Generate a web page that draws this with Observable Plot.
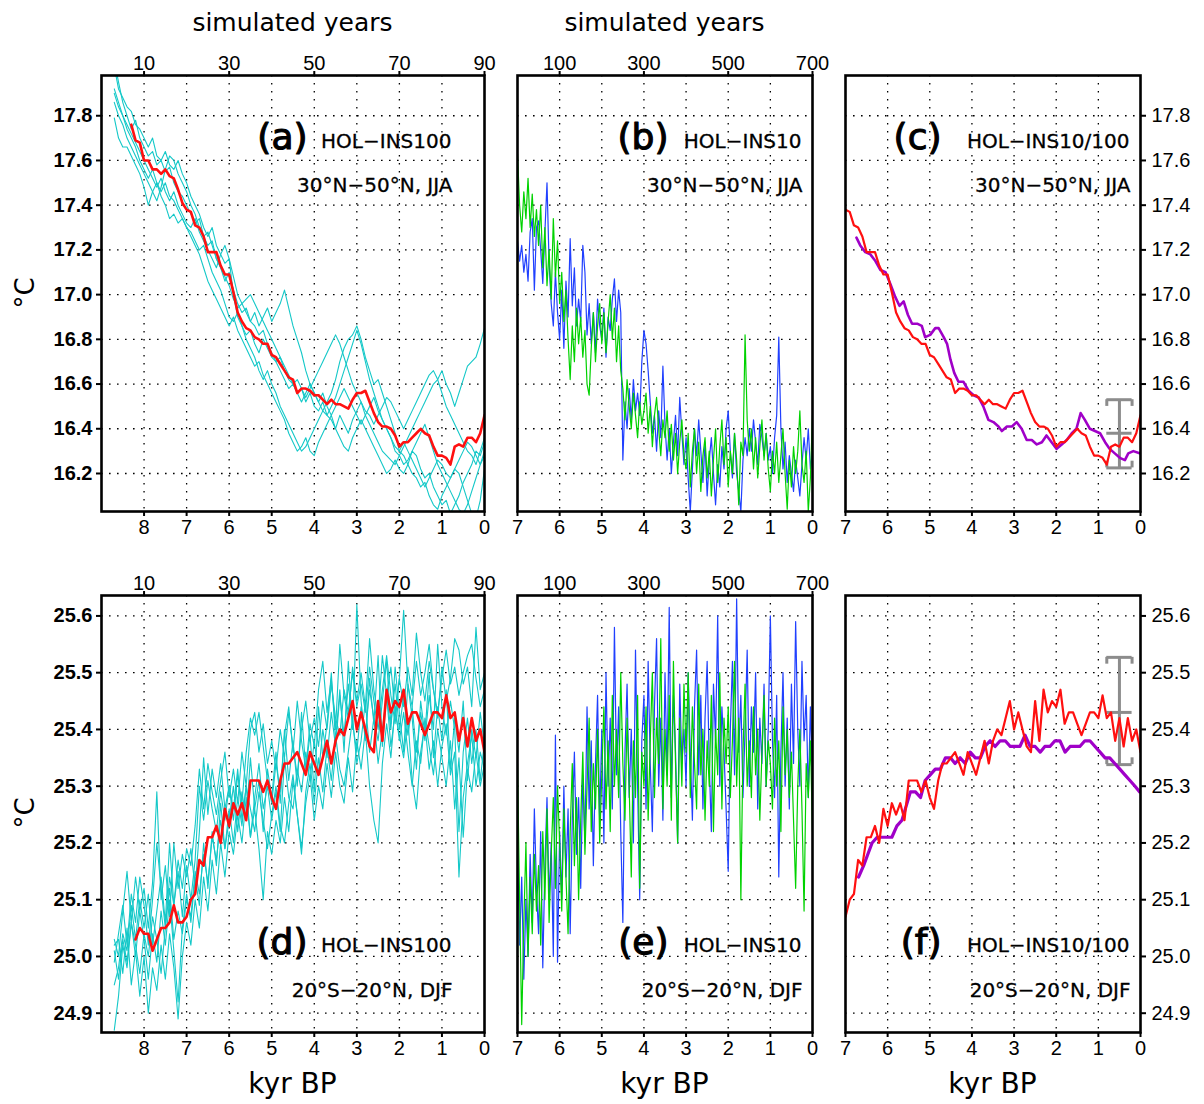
<!DOCTYPE html>
<html><head><meta charset="utf-8">
<script src="https://cdn.jsdelivr.net/npm/d3@7/dist/d3.min.js"></script>
<script src="https://cdn.jsdelivr.net/npm/@observablehq/plot@0.6/dist/plot.umd.min.js"></script>
<style>
body{margin:0;background:#fff;}
#wrap{position:relative;width:1204px;height:1104px;overflow:hidden;font-family:"DejaVu Sans",sans-serif;color:#000;}
.lbl{position:absolute;white-space:nowrap;transform:translate(-50%,-50%);line-height:1;}
</style></head><body><div id="wrap"></div>
<script>
// ---------------- tick labels / categories ----------------
const kyrTicks9 = [8,7,6,5,4,3,2,1,0];
const kyrTicks7 = [7,6,5,4,3,2,1,0];
const gridKyr9 = [8,7,6,5,4,3,2,1];
const gridKyr7 = [6,5,4,3,2,1];
const simYears100 = [10,30,50,70,90];      // HOL-INS100 simulated years
const simYears10 = [100,300,500,700];      // HOL-INS10 simulated years
const yTicksNH = [16.2,16.4,16.6,16.8,17.0,17.2,17.4,17.6,17.8];
const yTicksTR = [24.9,25.0,25.1,25.2,25.3,25.4,25.5,25.6];
const panelTags = ["(a)","(b)","(c)","(d)","(e)","(f)"];
const runNames = ["HOL−INS100","HOL−INS10","HOL−INS10/100"];
const regionNames = ["30°N−50°N, JJA","20°S−20°N, DJF"];

// ---------------- (a) HOL-INS100, 30N-50N JJA : ensemble members (8.7 .. 0.0 kyr, every 0.1) ----------------
const a1 = [18.05,17.95,17.86,17.80,17.74,17.78,17.70,17.66,
17.62,17.64,17.58,17.60,17.55,17.57,17.50,17.46,17.44,17.40,
17.36,17.32,17.34,17.26,17.22,17.24,17.16,17.12,17.06,17.10,
17.02,16.96,16.92,16.94,16.88,16.86,16.82,16.84,16.78,16.74,
16.70,16.72,16.66,16.62,16.60,16.56,16.58,16.52,16.56,16.50,
16.48,16.52,16.46,16.50,16.54,16.60,16.66,16.72,16.78,16.84,
16.78,16.70,16.62,16.56,16.50,16.44,16.40,16.36,16.30,16.28,
16.24,16.26,16.30,16.28,16.22,16.18,16.20,16.14,16.10,16.06,
16.08,16.02,16.06,16.10,16.16,16.20,16.24,16.30,16.28,16.34];
const a2 = [17.79,17.70,17.66,17.66,17.62,17.58,17.54,17.48,
17.40,17.46,17.50,17.44,17.40,17.34,17.36,17.32,17.34,17.30,
17.28,17.24,17.20,17.22,17.16,17.10,17.06,17.02,16.96,16.90,
16.88,16.92,16.86,16.80,16.76,16.72,16.66,16.62,16.66,16.60,
16.56,16.50,16.46,16.42,16.38,16.34,16.30,16.32,16.36,16.40,
16.44,16.48,16.52,16.56,16.62,16.70,16.76,16.80,16.82,16.86,
16.80,16.72,16.66,16.60,16.62,16.56,16.50,16.44,16.38,16.30,
16.28,16.24,16.20,16.18,16.14,16.16,16.10,16.06,16.04,16.10,
16.14,16.18,16.22,16.20,16.14,16.08,16.02,16.00,16.08,16.22];
const a3 = [18.02,17.92,17.88,17.84,17.82,17.76,17.74,17.70,
17.66,17.70,17.62,17.60,17.64,17.58,17.56,17.60,17.54,17.50,
17.44,17.40,17.36,17.30,17.26,17.30,17.22,17.18,17.14,17.16,
17.00,16.90,16.86,16.82,16.84,16.78,16.74,16.80,16.76,16.72,
16.70,16.66,16.62,16.58,16.60,16.56,16.52,16.56,16.60,16.56,
16.52,16.48,16.46,16.44,16.40,16.46,16.42,16.38,16.44,16.48,
16.52,16.46,16.42,16.38,16.34,16.30,16.28,16.26,16.24,16.28,
16.32,16.36,16.40,16.44,16.48,16.52,16.56,16.60,16.62,16.66,
16.60,16.56,16.50,16.56,16.62,16.68,16.70,16.72,16.78,16.85];
const a4 = [17.90,17.84,17.80,17.74,17.70,17.66,17.60,17.56,
17.52,17.56,17.50,17.46,17.50,17.44,17.42,17.38,17.34,17.30,
17.26,17.22,17.18,17.12,17.06,17.02,16.98,16.94,16.90,16.86,
16.90,16.84,16.80,16.76,16.72,16.68,16.70,16.64,16.60,16.56,
16.52,16.48,16.44,16.38,16.34,16.30,16.32,16.36,16.30,16.28,
16.34,16.38,16.42,16.46,16.40,16.36,16.32,16.30,16.36,16.40,
16.44,16.40,16.36,16.32,16.28,16.24,16.20,16.22,16.26,16.22,
16.20,16.24,16.30,16.34,16.38,16.42,16.36,16.30,16.24,16.20,
16.16,16.12,16.08,16.04,16.02,16.06,16.12,16.18,16.24,16.28];
const a5 = [17.92,17.86,17.80,17.76,17.72,17.68,17.64,17.60,
17.56,17.52,17.48,17.52,17.46,17.42,17.46,17.40,17.36,17.32,
17.30,17.34,17.28,17.24,17.20,17.16,17.12,17.18,17.22,17.16,
17.08,17.00,16.96,16.92,16.88,16.92,16.86,16.90,16.94,16.88,
16.92,16.96,17.02,16.94,16.86,16.80,16.74,16.66,16.60,16.56,
16.52,16.56,16.50,16.46,16.50,16.54,16.58,16.54,16.50,16.46,
16.42,16.46,16.50,16.54,16.48,16.44,16.40,16.36,16.32,16.30,
16.34,16.30,16.26,16.22,16.18,16.14,16.18,16.22,16.26,16.24,
16.20,16.18,16.22,16.26,16.30,16.34,16.32,16.28,16.24,16.30];
const a6 = [17.86,17.80,17.76,17.70,17.66,17.62,17.58,17.54,
17.50,17.46,17.42,17.48,17.56,17.62,17.60,17.54,17.50,17.46,
17.40,17.36,17.30,17.26,17.28,17.22,17.16,17.12,17.08,17.04,
16.98,16.94,16.96,16.98,17.00,16.96,16.92,16.88,16.84,16.80,
16.76,16.72,16.68,16.64,16.60,16.62,16.58,16.54,16.58,16.62,
16.66,16.70,16.74,16.78,16.82,16.78,16.72,16.66,16.60,16.56,
16.52,16.48,16.46,16.42,16.46,16.50,16.54,16.52,16.48,16.44,
16.40,16.44,16.48,16.52,16.56,16.60,16.64,16.66,16.62,16.56,
16.50,16.46,16.42,16.38,16.34,16.30,16.28,16.24,16.30,16.36];
// ensemble mean (8.3 .. 0.0 kyr, every 0.1)
const meanNH = [17.76,17.69,17.68,17.60,
17.60,17.56,17.56,17.54,17.56,17.53,17.52,17.47,17.41,17.38,
17.37,17.31,17.30,17.26,17.19,17.19,17.19,17.13,17.09,17.09,
17.01,16.92,16.88,16.85,16.84,16.81,16.80,16.78,16.78,16.73,
16.72,16.69,16.66,16.63,16.62,16.56,16.58,16.58,16.57,16.55,
16.55,16.53,16.51,16.53,16.51,16.51,16.50,16.49,16.53,16.56,
16.56,16.57,16.52,16.47,16.43,16.41,16.41,16.40,16.37,16.32,
16.34,16.34,16.36,16.38,16.40,16.38,16.37,16.32,16.28,16.28,
16.27,16.24,16.32,16.33,16.32,16.36,16.36,16.34,16.38,16.46];

// ---------------- (b) HOL-INS10, 30N-50N JJA (7.00 .. 0.00 kyr, every 0.05) ----------------
const bBlue = [17.24,17.15,17.22,17.10,17.18,17.06,17.28,17.34,17.02,17.30,
17.33,17.20,17.05,17.28,17.50,17.14,16.96,16.86,17.10,16.92,
16.80,17.02,16.76,17.06,16.90,17.25,16.95,17.12,16.86,16.98,
16.88,17.22,17.10,16.82,16.96,16.78,16.92,16.74,16.98,16.86,
16.80,16.94,16.72,16.90,16.84,16.98,17.07,16.88,17.02,16.92,
16.26,16.52,16.40,16.58,16.44,16.62,16.48,16.56,16.46,16.70,
16.84,16.78,16.66,16.52,16.38,16.46,16.30,16.48,16.36,16.68,
16.42,16.26,16.40,16.20,16.34,16.46,16.28,16.54,16.38,16.24,
16.36,16.18,16.03,16.22,16.40,16.28,16.44,16.30,16.16,16.34,
16.10,16.26,16.36,16.20,16.06,16.24,16.14,16.32,16.22,16.40,
16.48,16.30,16.18,16.38,16.20,16.12,16.03,16.26,16.36,16.28,
16.40,16.30,16.44,16.34,16.24,16.42,16.36,16.28,16.38,16.26,
16.32,16.20,16.36,16.46,16.81,16.40,16.22,16.34,16.16,16.28,
16.20,16.12,16.26,16.18,16.10,16.24,16.36,16.26,16.40,16.22,
16.30];
const bGreen = [17.63,17.40,17.28,17.46,17.34,17.52,17.30,17.45,17.26,17.38,
17.22,17.40,17.12,17.30,17.04,17.20,16.98,17.34,17.08,17.24,
16.96,17.10,16.88,17.02,16.80,16.62,16.86,16.70,16.94,16.78,
16.90,16.72,16.84,16.60,16.55,16.76,16.92,16.70,16.86,16.96,
16.78,16.92,16.74,16.88,17.00,16.80,16.94,16.70,16.86,16.66,
16.58,16.44,16.62,16.50,16.40,16.56,16.46,16.36,16.52,16.42,
16.48,16.56,16.38,16.50,16.32,16.46,16.54,16.40,16.28,16.44,
16.36,16.48,16.30,16.42,16.26,16.38,16.20,16.34,16.44,16.28,
16.22,16.38,16.14,16.30,16.40,16.20,16.34,16.12,16.28,16.36,
16.18,16.30,16.10,16.26,16.40,16.16,16.32,16.44,16.24,16.36,
16.14,16.30,16.20,16.38,16.26,16.06,16.34,16.28,16.82,16.44,
16.30,16.40,16.22,16.36,16.18,16.32,16.44,16.26,16.38,16.22,
16.12,16.30,16.20,16.34,16.16,16.28,16.40,16.20,16.04,16.26,
16.14,16.32,16.20,16.30,16.48,16.24,16.16,16.30,16.03,16.18,
16.46];

// ---------------- (c) HOL-INS10 smoothed mean ----------------
const smooth10NH_kyr = [6.74,6.65,6.53,6.41,6.29,6.17,6.05,5.94,5.82,5.72,5.62,5.52,5.42,5.30,5.19,5.11,4.99,4.87,4.79,4.67,4.59,4.51,4.42,4.32,4.20,4.08,3.96,3.84,3.73,3.61,3.49,3.37,3.29,3.17,3.05,2.94,2.82,2.70,2.58,2.46,2.34,2.23,2.11,1.99,1.87,1.75,1.63,1.52,1.42,1.32,1.20,1.08,0.96,0.84,0.73,0.61,0.49,0.37,0.29,0.17,0.02];
const smooth10NH = [17.255,17.22,17.19,17.18,17.15,17.11,17.10,17.05,16.99,16.95,16.97,16.91,16.87,16.87,16.86,16.81,16.82,16.85,16.85,16.81,16.78,16.71,16.65,16.61,16.61,16.57,16.55,16.54,16.50,16.44,16.43,16.41,16.39,16.41,16.41,16.43,16.40,16.35,16.35,16.33,16.34,16.37,16.34,16.31,16.33,16.35,16.38,16.40,16.47,16.44,16.40,16.39,16.38,16.34,16.31,16.29,16.27,16.26,16.29,16.30,16.29];
const errNH = [{kyr:0.5, lo:16.225, mid:16.38, hi:16.53}];

// ---------------- (d) HOL-INS100, 20S-20N DJF : ensemble members (8.7 .. 0.0 kyr) ----------------
const d1 = [24.87,24.93,25.02,24.98,25.06,25.00,25.08,25.03,
24.96,25.04,24.99,25.08,25.02,25.10,25.01,24.92,25.05,25.11,
25.06,25.14,25.09,25.20,25.12,25.22,25.16,25.27,25.19,25.24,
25.30,25.22,25.29,25.24,25.35,25.26,25.31,25.22,25.33,25.28,
25.36,25.27,25.40,25.31,25.38,25.30,25.43,25.33,25.39,25.29,
25.44,25.35,25.41,25.50,25.38,25.47,25.36,25.52,25.40,25.62,
25.45,25.38,25.49,25.41,25.53,25.37,25.46,25.40,25.51,25.43,
25.36,25.48,25.42,25.33,25.45,25.39,25.50,25.35,25.44,25.38,
25.47,25.33,25.42,25.36,25.45,25.31,25.40,25.35,25.43,25.37];
const d2 = [25.02,25.03,24.97,25.05,24.95,25.01,24.93,25.00,
24.90,24.98,24.94,25.02,24.96,25.04,24.98,24.89,25.00,25.06,
25.02,25.10,25.05,25.14,25.08,25.17,25.11,25.20,25.14,25.22,
25.18,25.25,25.20,25.28,25.21,25.26,25.19,25.10,25.22,25.18,
25.24,25.20,25.28,25.22,25.31,25.25,25.19,25.27,25.32,25.24,
25.30,25.26,25.34,25.28,25.36,25.30,25.27,25.35,25.29,25.38,
25.33,25.40,25.30,25.24,25.20,25.34,25.41,25.35,25.44,25.38,
25.43,25.36,25.30,25.38,25.34,25.42,25.37,25.32,25.40,25.35,
25.30,25.38,25.26,25.35,25.21,25.33,25.29,25.36,25.30,25.34];
const d3 = [25.03,25.00,25.08,25.15,25.06,25.14,25.08,25.12,
25.05,25.13,25.29,25.10,25.16,25.07,25.20,25.12,25.18,25.14,
25.19,25.12,25.22,25.35,25.25,25.33,25.28,25.34,25.26,25.30,
25.24,25.32,25.27,25.36,25.42,25.39,25.43,25.37,25.31,25.27,
25.34,25.29,25.39,25.44,25.36,25.45,25.38,25.33,25.41,25.37,
25.47,25.52,25.43,25.49,25.40,25.55,25.46,25.42,25.51,25.45,
25.50,25.44,25.56,25.47,25.42,25.53,25.46,25.51,25.43,25.49,
25.61,25.48,25.44,25.52,25.46,25.50,25.55,25.47,25.42,25.51,
25.45,25.49,25.56,25.54,25.48,25.51,25.44,25.58,25.47,25.50];
const d4 = [24.95,24.98,25.04,25.01,25.09,25.03,25.10,25.05,
25.11,25.02,25.08,25.14,25.06,25.20,25.09,25.15,25.07,25.16,
25.10,25.17,25.30,25.24,25.31,25.26,25.22,25.29,25.24,25.30,
25.26,25.33,25.24,25.30,25.21,25.28,25.34,25.26,25.30,25.24,
25.29,25.22,25.35,25.28,25.26,25.33,25.29,25.36,25.31,25.38,
25.32,25.40,25.35,25.43,25.37,25.46,25.39,25.48,25.41,25.36,
25.44,25.39,25.47,25.42,25.38,25.45,25.52,25.41,25.48,25.40,
25.46,25.39,25.44,25.36,25.43,25.38,25.46,25.40,25.55,25.44,
25.39,25.45,25.40,25.22,25.36,25.42,25.34,25.40,25.31,25.38];
const d5 = [25.01,24.96,25.03,24.99,25.06,25.02,24.97,25.04,
25.00,25.07,25.03,24.97,25.05,25.12,25.03,25.08,25.04,25.10,
25.07,25.15,25.11,25.18,25.13,25.21,25.17,25.24,25.19,25.26,
25.20,25.28,25.23,25.30,25.26,25.22,25.29,25.24,25.19,25.25,
25.30,25.23,25.20,25.27,25.32,25.25,25.18,25.29,25.34,25.27,
25.35,25.29,25.37,25.31,25.39,25.33,25.30,25.36,25.42,25.34,
25.38,25.45,25.36,25.42,25.34,25.40,25.46,25.37,25.43,25.39,
25.35,25.42,25.31,25.26,25.36,25.41,25.33,25.38,25.30,25.37,
25.41,25.32,25.36,25.14,25.28,25.34,25.39,25.30,25.36,25.33];
const d6 = [24.99,25.04,25.09,25.02,25.11,25.06,25.14,25.09,
25.02,25.10,25.20,25.12,25.05,25.14,25.09,25.17,25.12,25.19,
25.16,25.23,25.33,25.26,25.34,25.29,25.25,25.31,25.36,25.28,
25.33,25.27,25.36,25.30,25.40,25.43,25.36,25.41,25.34,25.38,
25.33,25.40,25.35,25.43,25.37,25.32,25.40,25.45,25.38,25.42,
25.37,25.45,25.40,25.48,25.42,25.39,25.47,25.43,25.50,25.44,
25.48,25.43,25.51,25.45,25.40,25.47,25.53,25.46,25.41,25.49,
25.44,25.51,25.46,25.57,25.50,25.45,25.52,25.47,25.43,25.49,
25.54,25.48,25.51,25.46,25.50,25.53,25.55,25.49,25.44,25.47];
// ensemble mean (8.2 .. 0.0 kyr, every 0.1)
const meanTR = [25.03,25.05,25.04,
25.04,25.01,25.03,25.05,25.05,25.06,25.09,25.06,25.06,25.07,
25.10,25.11,25.17,25.16,25.21,25.21,25.23,25.20,25.26,25.23,
25.27,25.25,25.27,25.24,25.31,25.31,25.31,25.29,25.31,25.28,
25.26,25.31,25.34,25.34,25.35,25.36,25.34,25.32,25.36,25.34,
25.32,25.35,25.38,25.34,25.38,25.40,25.39,25.42,25.45,25.40,
25.43,25.40,25.37,25.36,25.45,25.38,25.47,25.43,25.45,25.44,
25.47,25.41,25.43,25.43,25.41,25.39,25.41,25.43,25.43,25.42,
25.46,25.42,25.43,25.38,25.42,25.37,25.42,25.38,25.40,25.36];

// ---------------- (e) HOL-INS10, 20S-20N DJF (7.00 .. 0.00 kyr, every 0.05) ----------------
const eBlue = [25.20,25.02,25.14,24.96,25.10,25.00,25.18,25.06,25.26,25.12,
25.04,25.22,24.98,25.16,25.28,25.10,25.20,25.00,25.39,24.99,
25.22,25.10,25.30,25.14,25.26,25.04,25.24,25.36,25.18,25.28,
25.12,25.32,25.20,25.44,25.26,25.38,25.16,25.34,25.46,25.24,
25.40,25.20,25.50,25.30,25.42,25.26,25.58,25.32,25.44,25.22,
25.06,25.36,25.48,25.28,25.40,25.20,25.54,25.30,25.10,25.38,
25.46,25.26,25.52,25.34,25.22,25.44,25.56,25.30,25.42,25.24,
25.50,25.32,25.615,25.28,25.46,25.36,25.20,25.48,25.34,25.40,
25.30,25.50,25.36,25.24,25.44,25.54,25.32,25.46,25.26,25.42,
25.52,25.34,25.22,25.48,25.38,25.60,25.30,25.44,25.36,25.26,
25.15,25.40,25.52,25.32,25.63,25.36,25.46,25.28,25.40,25.54,
25.30,25.44,25.36,25.50,25.26,25.42,25.34,25.48,25.30,25.40,
25.60,25.38,25.28,25.46,25.14,25.36,25.50,25.30,25.42,25.26,
25.48,25.34,25.59,25.40,25.30,25.52,25.38,25.46,25.28,25.44,
25.32];
const eGreen = [25.34,25.10,24.88,25.06,25.20,25.00,25.14,25.04,25.18,25.08,
25.16,25.02,25.22,25.10,25.26,25.06,25.18,25.28,25.12,25.30,
25.20,25.08,25.26,25.14,25.04,25.22,25.34,25.16,25.28,25.10,
25.24,25.36,25.18,25.30,25.42,25.22,25.34,25.26,25.40,25.20,
25.32,25.44,25.26,25.38,25.22,25.46,25.30,25.40,25.28,25.50,
25.34,25.24,25.42,25.30,25.14,25.38,25.28,25.46,25.12,25.36,
25.30,25.44,25.24,25.38,25.50,25.28,25.42,25.34,25.56,25.26,
25.40,25.30,25.46,25.24,25.52,25.34,25.20,25.42,25.30,25.48,
25.36,25.50,25.28,25.44,25.34,25.26,25.48,25.32,25.40,25.24,
25.38,25.30,25.46,25.22,25.40,25.32,25.50,25.26,25.42,25.34,
25.44,25.28,25.38,25.52,25.30,25.42,25.10,25.36,25.48,25.30,
25.38,25.28,25.44,25.32,25.40,25.24,25.36,25.46,25.30,25.38,
25.34,25.26,25.42,25.30,25.38,25.22,25.44,25.32,25.40,25.28,
25.36,25.24,25.12,25.30,25.40,25.26,25.08,25.34,25.28,25.38,
25.22];

// ---------------- (f) HOL-INS10 smoothed mean ----------------
const smooth10TR_kyr = [6.69,6.57,6.47,6.37,6.25,6.13,6.01,5.90,5.78,5.66,5.58,5.46,5.34,5.22,5.11,4.99,4.87,4.75,4.63,4.51,4.40,4.28,4.16,4.04,3.92,3.80,3.69,3.57,3.45,3.33,3.21,3.09,2.98,2.86,2.74,2.62,2.50,2.38,2.27,2.15,2.03,1.91,1.79,1.67,1.55,1.44,1.32,1.20,1.08,0.96,0.84,0.73,0.61,0.49,0.37,0.25,0.13,0.02];
const smooth10TR = [25.14,25.16,25.18,25.20,25.21,25.21,25.21,25.21,25.23,25.24,25.26,25.29,25.29,25.28,25.31,25.32,25.33,25.33,25.35,25.35,25.34,25.35,25.34,25.36,25.35,25.35,25.37,25.38,25.37,25.38,25.38,25.37,25.37,25.37,25.39,25.37,25.37,25.36,25.37,25.37,25.38,25.38,25.36,25.37,25.37,25.37,25.38,25.38,25.37,25.36,25.35,25.35,25.34,25.33,25.32,25.31,25.30,25.29];
const errTR = [{kyr:0.5, lo:25.338, mid:25.43, hi:25.527}];

// ---------------- build tables ----------------
// time axis of the annual outputs (kyr BP of each simulated year)
function series(vals, startKyr, step, member) {
  return vals.map((v, i) => ({kyr: +(startKyr - i * step).toFixed(3), v, m: member}));
}
const ensNH = [a1,a2,a3,a4,a5,a6].flatMap((vals, j) => series(vals, 8.7, 0.1, j));
const ensTR = [d1,d2,d3,d4,d5,d6].flatMap((vals, j) => series(vals, 8.7, 0.1, j));
const meanNHt = series(meanNH, 8.3, 0.1, 0);
const meanTRt = series(meanTR, 8.2, 0.1, 0);
const bBlueT = series(bBlue, 7, 0.05, 0), bGreenT = series(bGreen, 7, 0.05, 0);
const eBlueT = series(eBlue, 7, 0.05, 0), eGreenT = series(eGreen, 7, 0.05, 0);
const sNH = smooth10NH_kyr.map((k, i) => ({kyr: k, v: smooth10NH[i]}));
const sTR = smooth10TR_kyr.map((k, i) => ({kyr: k, v: smooth10TR[i]}));

// ---------------- styles ----------------
const C_CYAN = "#14c8c8", C_RED = "#ff1010", C_BLUE = "#2040ff", C_GREEN = "#00d200", C_PURPLE = "#a000c8", C_GRAY = "#8c8c8c";
const DOT = "1.6,6.4";
const TICKFONT = "Liberation Sans, Arial, sans-serif";
const ANNOFONT = "DejaVu Sans, sans-serif";
const fmt1 = d => Number(d).toFixed(1);

const wrap = document.getElementById("wrap");
function place(node, left, top) {
  node.style.position = "absolute"; node.style.left = left + "px"; node.style.top = top + "px";
  wrap.appendChild(node);
}
function label(text, cx, cy, size, rotate) {
  const d = document.createElement("div");
  d.className = "lbl"; d.textContent = text;
  d.style.left = cx + "px"; d.style.top = cy + "px"; d.style.fontSize = size + "px";
  if (rotate) d.style.transform = "translate(-50%,-50%) rotate(-90deg)";
  wrap.appendChild(d);
}

function annot(top, tag, run, region, pos) {
  const anchor = top ? "top-right" : "bottom-right";
  return [
    Plot.text([tag], {text: d => d, frameAnchor: anchor, dx: pos.tagDx, dy: pos.tagDy, textAnchor: "end", lineAnchor: "middle", fontSize: 36, fontFamily: ANNOFONT, fill: "black", stroke: "black", strokeWidth: 1.1}),
    Plot.text([run], {text: d => d, frameAnchor: anchor, dx: pos.runDx, dy: pos.runDy, textAnchor: "end", lineAnchor: "middle", fontSize: 20, fontFamily: ANNOFONT, fill: "black", stroke: "black", strokeWidth: 0.3}),
    Plot.text([region], {text: d => d, frameAnchor: anchor, dx: pos.regDx, dy: pos.regDy, textAnchor: "end", lineAnchor: "middle", fontSize: 20, fontFamily: ANNOFONT, fill: "black", stroke: "black", strokeWidth: 0.3})
  ];
}

const CAP = 0.3; // half width of the spread bar caps (kyr)
function spreadBar(err, hook) {
  const ends = err.flatMap(d => [{x: d.kyr - CAP, ...d}, {x: d.kyr + CAP, ...d}]);
  const st = {stroke: C_GRAY, strokeWidth: 3};
  return [
    Plot.ruleX(err, {x: "kyr", y1: "lo", y2: "hi", ...st}),
    Plot.ruleY(err, {y: "hi", x1: d => d.kyr - CAP, x2: d => d.kyr + CAP, ...st}),
    Plot.ruleY(err, {y: "mid", x1: d => d.kyr - CAP, x2: d => d.kyr + CAP, ...st}),
    Plot.ruleY(err, {y: "lo", x1: d => d.kyr - CAP, x2: d => d.kyr + CAP, ...st}),
    Plot.ruleX(ends, {x: "x", y1: "hi", y2: d => d.hi - hook, ...st}),
    Plot.ruleX(ends, {x: "x", y1: "lo", y2: d => d.lo + hook, ...st})
  ];
}

function panel(o) {
  const marks = [
    Plot.gridX(o.gridX, {stroke: "black", strokeOpacity: 1, strokeWidth: 1.3, strokeDasharray: DOT}),
    Plot.gridY(o.yTicks, {stroke: "black", strokeOpacity: 1, strokeWidth: 1.3, strokeDasharray: DOT}),
    ...o.marks,
    Plot.axisX(o.xTicks, {anchor: "bottom", tickSize: 5, tickPadding: 3, strokeWidth: 2, fontSize: 20, fontFamily: TICKFONT, tickFormat: d => String(d), label: null}),
    ...o.annot,
    Plot.frame({stroke: "black", strokeWidth: 2.6})
  ];
  if (o.topTicks) marks.push(Plot.axisX(o.topTicks.kyr, {anchor: "top", tickSize: 5, tickPadding: 1, strokeWidth: 2, fontSize: 20, fontFamily: TICKFONT, tickFormat: (d, i) => String(o.topTicks.labels[i]), label: null}));
  if (o.yAxis === "left") marks.push(Plot.axisY(o.yTicks, {anchor: "left", tickSize: 5, tickPadding: 4, strokeWidth: 2, fontSize: 20, fontWeight: "bold", fontFamily: TICKFONT, tickFormat: fmt1, label: null}));
  if (o.yAxis === "right") marks.push(Plot.axisY(o.yTicks, {anchor: "right", tickSize: 5, tickPadding: 6, strokeWidth: 2, fontSize: 20, fontFamily: TICKFONT, tickFormat: fmt1, label: null}));
  return Plot.plot({
    width: o.w, height: o.h,
    marginLeft: o.mL, marginRight: o.mR, marginTop: o.mT, marginBottom: o.mB,
    x: {domain: o.xDomain, axis: null},
    y: {domain: o.yDomain, axis: null},
    style: {background: "transparent", fontFamily: TICKFONT, fontSize: "20px", color: "black", overflow: "visible"},
    marks
  });
}

const top100 = {kyr: simYears100.map(y => (90 - y) / 10), labels: simYears100};
const top10 = {kyr: simYears10.map(y => (700 - y) / 100), labels: simYears10};

const yDomNH = [16.03, 17.98], yDomTR = [24.866, 25.636];
const row1 = {top: 40, h: 520, mT: 35, mB: 49};
const row2 = {top: 560, h: 510, mT: 35, mB: 38};
const colA = {left: 0, w: 500, mL: 101, mR: 16};
const colB = {left: 500, w: 330, mL: 17, mR: 18};
const colC = {left: 830, w: 374, mL: 15, mR: 64};

const posA = {tagDx: -177, runDx: -33, regDx: -32};
const posB = {tagDx: -144, runDx: -11, regDx: -10};
const posC = {tagDx: -199, runDx: -11, regDx: -10};
const vTop = {tagDy: 62, runDy: 66, regDy: 110};
const vBot = {tagDy: -90, runDy: -87, regDy: -42};

const lineNH7 = meanNHt.filter(d => d.kyr <= 7.0001);
const lineTR7 = meanTRt.filter(d => d.kyr <= 7.0001);

function safePlace(fn, left, top) {
  try { place(fn(), left, top); } catch (e) { console.error(e); }
}

// (a)
safePlace(() => panel({...colA, ...row1, xDomain: [9, 0], yDomain: yDomNH, xTicks: kyrTicks9, gridX: gridKyr9, yTicks: yTicksNH, yAxis: "left", topTicks: top100,
  marks: [
    Plot.line(ensNH, {x: "kyr", y: "v", z: "m", stroke: C_CYAN, strokeWidth: 1.1, clip: true}),
    Plot.line(meanNHt, {x: "kyr", y: "v", stroke: C_RED, strokeWidth: 2.6, clip: true})
  ],
  annot: annot(true, panelTags[0], runNames[0], regionNames[0], {...posA, ...vTop})}), colA.left, row1.top);
// (b)
safePlace(() => panel({...colB, ...row1, xDomain: [7, 0], yDomain: yDomNH, xTicks: kyrTicks7, gridX: gridKyr7, yTicks: yTicksNH, yAxis: null, topTicks: top10,
  marks: [
    Plot.line(bBlueT, {x: "kyr", y: "v", stroke: C_BLUE, strokeWidth: 1.2, clip: true}),
    Plot.line(bGreenT, {x: "kyr", y: "v", stroke: C_GREEN, strokeWidth: 1.2, clip: true})
  ],
  annot: annot(true, panelTags[1], runNames[1], regionNames[0], {...posB, ...vTop})}), colB.left, row1.top);
// (c)
safePlace(() => panel({...colC, ...row1, xDomain: [7, 0], yDomain: yDomNH, xTicks: kyrTicks7, gridX: gridKyr7, yTicks: yTicksNH, yAxis: "right", topTicks: null,
  marks: [
    ...spreadBar(errNH, 0.03),
    Plot.line(sNH, {x: "kyr", y: "v", stroke: C_PURPLE, strokeWidth: 2.6, clip: true}),
    Plot.line(lineNH7, {x: "kyr", y: "v", stroke: C_RED, strokeWidth: 2.2, clip: true})
  ],
  annot: annot(true, panelTags[2], runNames[2], regionNames[0], {...posC, ...vTop})}), colC.left, row1.top);
// (d)
safePlace(() => panel({...colA, ...row2, xDomain: [9, 0], yDomain: yDomTR, xTicks: kyrTicks9, gridX: gridKyr9, yTicks: yTicksTR, yAxis: "left", topTicks: top100,
  marks: [
    Plot.line(ensTR, {x: "kyr", y: "v", z: "m", stroke: C_CYAN, strokeWidth: 1.1, clip: true}),
    Plot.line(meanTRt, {x: "kyr", y: "v", stroke: C_RED, strokeWidth: 2.6, clip: true})
  ],
  annot: annot(false, panelTags[3], runNames[0], regionNames[1], {...posA, ...vBot})}), colA.left, row2.top);
// (e)
safePlace(() => panel({...colB, ...row2, xDomain: [7, 0], yDomain: yDomTR, xTicks: kyrTicks7, gridX: gridKyr7, yTicks: yTicksTR, yAxis: null, topTicks: top10,
  marks: [
    Plot.line(eBlueT, {x: "kyr", y: "v", stroke: C_BLUE, strokeWidth: 1.2, clip: true}),
    Plot.line(eGreenT, {x: "kyr", y: "v", stroke: C_GREEN, strokeWidth: 1.2, clip: true})
  ],
  annot: annot(false, panelTags[4], runNames[1], regionNames[1], {...posB, ...vBot})}), colB.left, row2.top);
// (f)
safePlace(() => panel({...colC, ...row2, xDomain: [7, 0], yDomain: yDomTR, xTicks: kyrTicks7, gridX: gridKyr7, yTicks: yTicksTR, yAxis: "right", topTicks: null,
  marks: [
    ...spreadBar(errTR, 0.012),
    Plot.line(sTR, {x: "kyr", y: "v", stroke: C_PURPLE, strokeWidth: 3.2, clip: true}),
    Plot.line(lineTR7, {x: "kyr", y: "v", stroke: C_RED, strokeWidth: 2.2, clip: true})
  ],
  annot: annot(false, panelTags[5], runNames[2], regionNames[1], {...posC, ...vBot})}), colC.left, row2.top);

label("simulated years", 292.5, 22, 25);
label("simulated years", 664.5, 22, 25);
label("°C", 25, 293, 26, true);
label("°C", 25, 813, 26, true);
label("kyr BP", 292.5, 1084, 28);
label("kyr BP", 664.5, 1084, 28);
label("kyr BP", 992.5, 1084, 28);
</script></body></html>
